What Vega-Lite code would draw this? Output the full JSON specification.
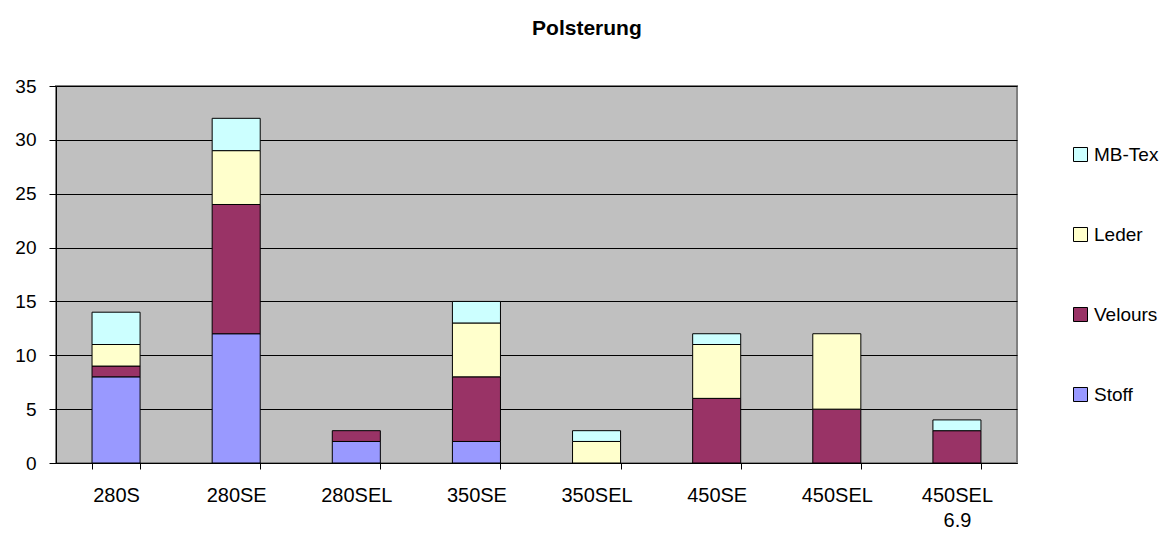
{
  "$schema": "https://vega.github.io/schema/vega-lite/v6.json",
  "width": 961,
  "height": 377,
  "autosize": {"type": "none"},
  "padding": {"left": 56, "top": 86, "right": 154, "bottom": 71},
  "background": "white",
  "config": {
    "font": "Liberation Sans",
    "view": {"fill": "#C0C0C0", "stroke": "#808080", "strokeWidth": 2},
    "axis": {"labelFont": "Liberation Sans", "labelFontSize": 19, "labelColor": "black", "domainColor": "black", "tickColor": "black", "gridColor": "black", "gridOpacity": 1, "tickSize": 6}
  },
  "title": {"text": "Polsterung", "fontSize": 21, "fontWeight": "bold", "font": "Liberation Sans", "anchor": "middle", "frame": "bounds", "offset": 38, "color": "black"},
  "data": {
    "values": [
      {"Modell": "280S", "Polsterung": "Stoff", "Anzahl": 8},
      {"Modell": "280S", "Polsterung": "Velours", "Anzahl": 1},
      {"Modell": "280S", "Polsterung": "Leder", "Anzahl": 2},
      {"Modell": "280S", "Polsterung": "MB-Tex", "Anzahl": 3},
      {"Modell": "280SE", "Polsterung": "Stoff", "Anzahl": 12},
      {"Modell": "280SE", "Polsterung": "Velours", "Anzahl": 12},
      {"Modell": "280SE", "Polsterung": "Leder", "Anzahl": 5},
      {"Modell": "280SE", "Polsterung": "MB-Tex", "Anzahl": 3},
      {"Modell": "280SEL", "Polsterung": "Stoff", "Anzahl": 2},
      {"Modell": "280SEL", "Polsterung": "Velours", "Anzahl": 1},
      {"Modell": "350SE", "Polsterung": "Stoff", "Anzahl": 2},
      {"Modell": "350SE", "Polsterung": "Velours", "Anzahl": 6},
      {"Modell": "350SE", "Polsterung": "Leder", "Anzahl": 5},
      {"Modell": "350SE", "Polsterung": "MB-Tex", "Anzahl": 2},
      {"Modell": "350SEL", "Polsterung": "Leder", "Anzahl": 2},
      {"Modell": "350SEL", "Polsterung": "MB-Tex", "Anzahl": 1},
      {"Modell": "450SE", "Polsterung": "Velours", "Anzahl": 6},
      {"Modell": "450SE", "Polsterung": "Leder", "Anzahl": 5},
      {"Modell": "450SE", "Polsterung": "MB-Tex", "Anzahl": 1},
      {"Modell": "450SEL", "Polsterung": "Velours", "Anzahl": 5},
      {"Modell": "450SEL", "Polsterung": "Leder", "Anzahl": 7},
      {"Modell": "450SEL 6.9", "Polsterung": "Velours", "Anzahl": 3},
      {"Modell": "450SEL 6.9", "Polsterung": "MB-Tex", "Anzahl": 1}
    ]
  },
  "transform": [
    {"calculate": "datum.Polsterung == 'Stoff' ? 0 : (datum.Polsterung == 'Velours' ? 1 : (datum.Polsterung == 'Leder' ? 2 : 3))", "as": "Stapelfolge"}
  ],
  "mark": {"type": "bar", "stroke": "black", "strokeWidth": 1},
  "encoding": {
    "x": {
      "field": "Modell", "type": "nominal", "sort": null,
      "scale": {"paddingInner": 0.6, "paddingOuter": 0.3},
      "axis": {"title": null, "labelAngle": 0, "tickBand": "extent", "grid": false, "labelPadding": 16, "labelLineHeight": 25, "labelFontSize": 20, "labelExpr": "split(datum.label, ' ')"}
    },
    "y": {
      "field": "Anzahl", "type": "quantitative", "aggregate": "sum", "stack": "zero",
      "scale": {"domain": [0, 35], "nice": false},
      "axis": {"title": null, "values": [0, 5, 10, 15, 20, 25, 30, 35], "grid": true, "labelPadding": 13, "tickSize": 7}
    },
    "color": {
      "field": "Polsterung", "type": "nominal",
      "scale": {"domain": ["Stoff", "Velours", "Leder", "MB-Tex"], "range": ["#9999FF", "#993366", "#FFFFCC", "#CCFFFF"]},
      "legend": {"title": null, "orient": "none", "legendX": 1015, "legendY": 59, "values": ["MB-Tex", "Leder", "Velours", "Stoff"], "symbolType": "square", "symbolSize": 196, "symbolStrokeColor": "black", "symbolStrokeWidth": 1, "labelFontSize": 19, "labelFont": "Liberation Sans", "labelColor": "black", "rowPadding": 60, "labelOffset": 4}
    },
    "order": {"field": "Stapelfolge", "type": "quantitative", "sort": "ascending"}
  }
}
